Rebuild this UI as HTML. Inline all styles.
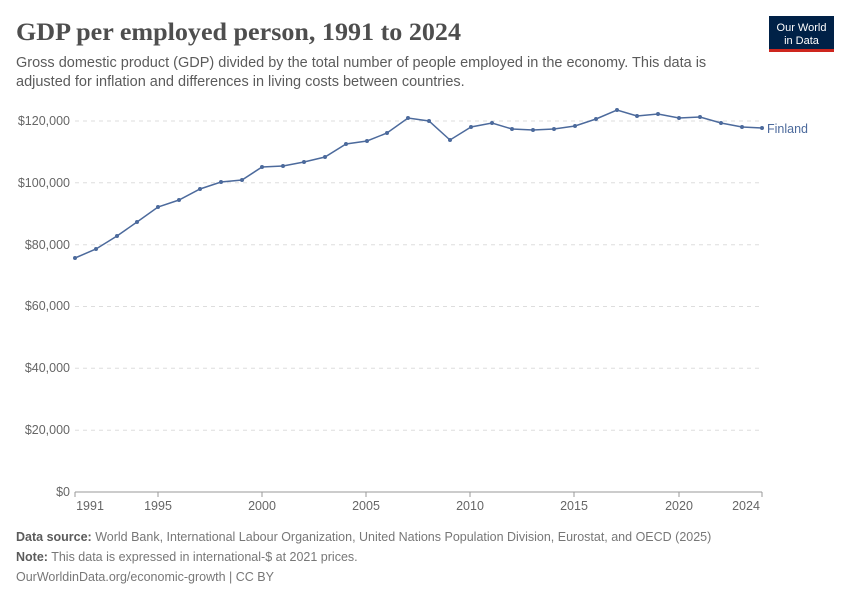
<!DOCTYPE html>
<html><head><meta charset="utf-8"><style>
body{margin:0;background:#fff;width:850px;height:600px;overflow:hidden;font-family:"Liberation Sans",sans-serif}
</style></head><body>
<svg width="850" height="600" xmlns="http://www.w3.org/2000/svg" font-family="Liberation Sans, sans-serif">
<text x="16" y="40" font-family="Liberation Serif, serif" font-size="25" font-weight="bold" fill="#4e4e4e" textLength="445" lengthAdjust="spacingAndGlyphs">GDP per employed person, 1991 to 2024</text>
<text x="16" y="67" font-size="14.5" fill="#5b5b5b">Gross domestic product (GDP) divided by the total number of people employed in the economy. This data is</text>
<text x="16" y="86" font-size="14.5" fill="#5b5b5b">adjusted for inflation and differences in living costs between countries.</text>
<rect x="769" y="16" width="65" height="36" fill="#002147"/>
<rect x="769" y="49" width="65" height="3" fill="#ce261e"/>
<text x="801.5" y="31" font-size="11" fill="#fff" text-anchor="middle">Our World</text>
<text x="801.5" y="44" font-size="11" fill="#fff" text-anchor="middle">in Data</text>
<g stroke="#ddd" stroke-dasharray="4,4">
<line x1="75" x2="762" y1="430.2" y2="430.2"/><line x1="75" x2="762" y1="368.3" y2="368.3"/><line x1="75" x2="762" y1="306.5" y2="306.5"/><line x1="75" x2="762" y1="244.7" y2="244.7"/><line x1="75" x2="762" y1="182.8" y2="182.8"/><line x1="75" x2="762" y1="121" y2="121"/>
</g>
<line x1="75" x2="762" y1="492" y2="492" stroke="#999"/>
<g font-size="12.5" fill="#666" text-anchor="end">
<text x="70" y="496">$0</text><text x="70" y="434">$20,000</text><text x="70" y="372">$40,000</text><text x="70" y="310">$60,000</text><text x="70" y="249">$80,000</text><text x="70" y="187">$100,000</text><text x="70" y="125">$120,000</text>
</g>
<g font-size="12.5" fill="#666" text-anchor="middle">
<text x="90" y="510">1991</text><text x="158" y="510">1995</text><text x="262" y="510">2000</text><text x="366" y="510">2005</text><text x="470" y="510">2010</text><text x="574" y="510">2015</text><text x="679" y="510">2020</text><text x="746" y="510">2024</text>
</g>
<g stroke="#999"><line x1="75" x2="75" y1="492" y2="497"/><line x1="158" x2="158" y1="492" y2="497"/><line x1="262" x2="262" y1="492" y2="497"/><line x1="366" x2="366" y1="492" y2="497"/><line x1="470" x2="470" y1="492" y2="497"/><line x1="574" x2="574" y1="492" y2="497"/><line x1="679" x2="679" y1="492" y2="497"/><line x1="762" x2="762" y1="492" y2="497"/></g>
<polyline fill="none" stroke="#4c6a9c" stroke-width="1.5" points="75,258 96,249 117,236 137,222 158,207 179,200 200,189 221,182 242,180 262,167 283,166 304,162 325,157 346,144 367,141 387,133 408,118 429,121 450,140 471,127 492,123 512,129 533,130 554,129 575,126 596,119 617,110 637,116 658,114 679,118 700,117 721,123 742,127 762,128"/>
<g fill="#4c6a9c">
<circle cx="75" cy="258" r="2"/><circle cx="96" cy="249" r="2"/><circle cx="117" cy="236" r="2"/><circle cx="137" cy="222" r="2"/><circle cx="158" cy="207" r="2"/><circle cx="179" cy="200" r="2"/><circle cx="200" cy="189" r="2"/><circle cx="221" cy="182" r="2"/><circle cx="242" cy="180" r="2"/><circle cx="262" cy="167" r="2"/><circle cx="283" cy="166" r="2"/><circle cx="304" cy="162" r="2"/><circle cx="325" cy="157" r="2"/><circle cx="346" cy="144" r="2"/><circle cx="367" cy="141" r="2"/><circle cx="387" cy="133" r="2"/><circle cx="408" cy="118" r="2"/><circle cx="429" cy="121" r="2"/><circle cx="450" cy="140" r="2"/><circle cx="471" cy="127" r="2"/><circle cx="492" cy="123" r="2"/><circle cx="512" cy="129" r="2"/><circle cx="533" cy="130" r="2"/><circle cx="554" cy="129" r="2"/><circle cx="575" cy="126" r="2"/><circle cx="596" cy="119" r="2"/><circle cx="617" cy="110" r="2"/><circle cx="637" cy="116" r="2"/><circle cx="658" cy="114" r="2"/><circle cx="679" cy="118" r="2"/><circle cx="700" cy="117" r="2"/><circle cx="721" cy="123" r="2"/><circle cx="742" cy="127" r="2"/><circle cx="762" cy="128" r="2"/>
</g>
<text x="767" y="133" font-size="12.5" fill="#4c6a9c">Finland</text>
<g font-size="12.5" fill="#777">
<text x="16" y="541"><tspan font-weight="bold" fill="#5b5b5b">Data source:</tspan> World Bank, International Labour Organization, United Nations Population Division, Eurostat, and OECD (2025)</text>
<text x="16" y="561"><tspan font-weight="bold" fill="#5b5b5b">Note:</tspan> This data is expressed in international-$ at 2021 prices.</text>
<text x="16" y="581">OurWorldinData.org/economic-growth | CC BY</text>
</g>
</svg>
</body></html>
